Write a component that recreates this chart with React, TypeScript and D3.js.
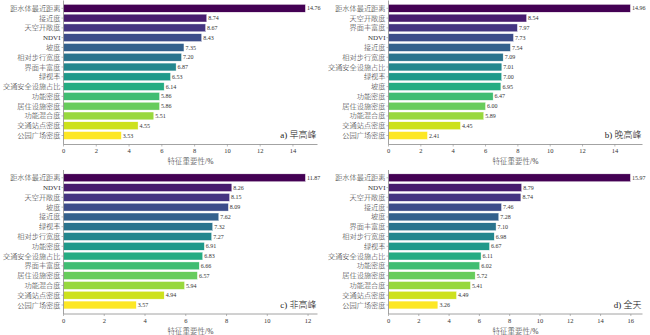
import React from "react";
import * as d3 from "d3";

const catsA = ["距水体最近距离","接近度","天空开敞度","NDVI","坡度","相对步行宽度","界面丰富度","绿视率","交通安全设施占比","功能密度","居住设施密度","功能混合度","交通站点密度","公园广场密度"];
const valsA = [14.76,8.74,8.67,8.43,7.35,7.20,6.87,6.53,6.14,5.86,5.86,5.51,4.55,3.53];

const catsB = ["距水体最近距离","天空开敞度","界面丰富度","NDVI","接近度","相对步行宽度","交通安全设施占比","绿视率","坡度","功能密度","居住设施密度","功能混合度","交通站点密度","公园广场密度"];
const valsB = [14.96,8.54,7.97,7.73,7.54,7.09,7.01,7.00,6.95,6.47,6.00,5.89,4.45,2.41];

const catsC = ["距水体最近距离","NDVI","天空开敞度","坡度","接近度","绿视率","相对步行宽度","功能密度","交通安全设施占比","界面丰富度","居住设施密度","功能混合度","交通站点密度","公园广场密度"];
const valsC = [11.87,8.26,8.15,8.09,7.62,7.32,7.27,6.91,6.83,6.66,6.57,5.94,4.94,3.57];

const catsD = ["距水体最近距离","NDVI","天空开敞度","接近度","坡度","界面丰富度","相对步行宽度","绿视率","交通安全设施占比","功能密度","居住设施密度","功能混合度","交通站点密度","公园广场密度"];
const valsD = [15.97,8.79,8.74,7.46,7.28,7.10,6.98,6.67,6.11,6.02,5.72,5.41,4.49,3.26];

const titles = ["a) 早高峰","b) 晚高峰","c) 非高峰","d) 全天"];
const xTicksA = [0,2,4,6,8,10,12,14];
const xTicksB = [0,2,4,6,8,10,12,14];
const xTicksC = [0,2,4,6,8,10,12];
const xTicksD = [0,2,4,6,8,10,12,14,16];
const xLabel = "特征重要性/%";

const FONT = "'Liberation Serif', 'Times New Roman', 'Noto Sans CJK SC', serif";
const AXIS = "#8c8c8c";
const isLatin = (s: string) => /^[\x00-\x7f]+$/.test(s);

type PanelProps = { cats: string[]; vals: number[]; ticks: number[]; title: string; ox: number; oy: number };

function Panel({ cats, vals, ticks, title, ox, oy }: PanelProps) {
  const left = ox + 63.5;
  const right = ox + 317.5;
  const top = oy + 0.5;
  const bottom = oy + 144.5;
  const x = d3.scaleLinear().domain([0, d3.max(vals)! * 1.05]).range([left, right]);
  const y = d3.scaleBand<string>().domain(cats).range([oy + 3.4, oy + 140.4]).paddingInner(0.2).paddingOuter(0.1);
  const color = (i: number) => d3.interpolateViridis(i / (cats.length - 1));
  return (
    <g fontFamily={FONT}>
      {cats.map((c, i) => (
        <g key={c}>
          <rect x={x(0)} y={y(c)} width={x(vals[i]) - x(0)} height={y.bandwidth()} fill={color(i)} stroke="#fff" strokeWidth={0.4} />
          <text x={x(vals[i]) + 1.5} y={y(c)! + y.bandwidth() / 2} dy="0.35em" fontSize={6} fill="#333">{vals[i].toFixed(2)}</text>
          <line x1={left - 2} x2={left} y1={y(c)! + y.bandwidth() / 2} y2={y(c)! + y.bandwidth() / 2} stroke={AXIS} strokeWidth={0.6} />
          <text x={left - 3} y={y(c)! + y.bandwidth() / 2} dy="0.35em" textAnchor="end" fontSize={isLatin(c) ? 7 : 7.2} fontWeight={isLatin(c) ? 400 : 300} fill="#333">{c}</text>
        </g>
      ))}
      <line x1={left} x2={left} y1={top} y2={bottom} stroke={AXIS} strokeWidth={0.8} />
      <line x1={left} x2={right} y1={bottom} y2={bottom} stroke={AXIS} strokeWidth={0.8} />
      {ticks.map(t => (
        <g key={t}>
          <line x1={x(t)} x2={x(t)} y1={bottom} y2={bottom + 2} stroke={AXIS} strokeWidth={0.6} />
          <text x={x(t)} y={bottom + 8.5} textAnchor="middle" fontSize={6.5} fill="#333">{t}</text>
        </g>
      ))}
      <text x={(left + right) / 2} y={bottom + 19.5} textAnchor="middle" fontSize={7.5} fontWeight={300} fill="#333">{xLabel}</text>
      <text x={right - 1} y={oy + 138} textAnchor="end" fontSize={9} fontWeight={300} fill="#222">{title}</text>
    </g>
  );
}

export default function App() {
  return (
    <svg width={650} height={335} style={{ position: "absolute", left: 0, top: 0, background: "#fff" }}>
      <rect width={650} height={335} fill="#fff" />
      <Panel cats={catsA} vals={valsA} ticks={xTicksA} title={titles[0]} ox={0} oy={0} />
      <Panel cats={catsB} vals={valsB} ticks={xTicksB} title={titles[1]} ox={325} oy={0} />
      <Panel cats={catsC} vals={valsC} ticks={xTicksC} title={titles[2]} ox={0} oy={169.5} />
      <Panel cats={catsD} vals={valsD} ticks={xTicksD} title={titles[3]} ox={325} oy={169.5} />
    </svg>
  );
}
